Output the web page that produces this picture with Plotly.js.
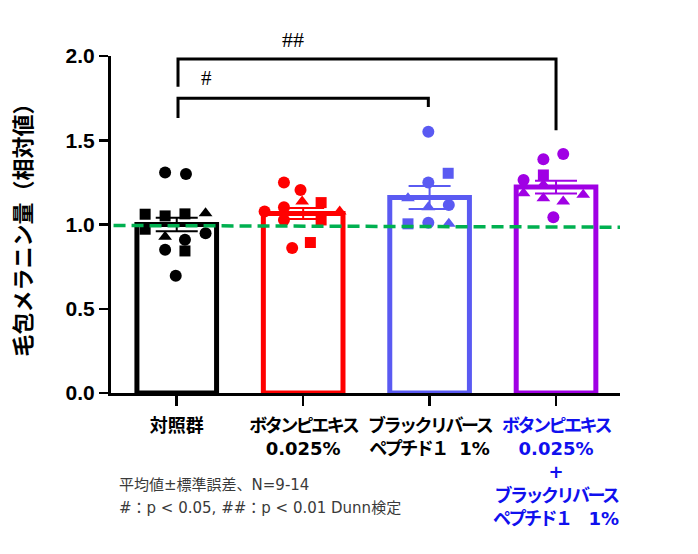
<!DOCTYPE html>
<html>
<head>
<meta charset="utf-8">
<script src="https://cdn.plot.ly/plotly-3.0.1.min.js"></script>
<style>html,body{margin:0;padding:0;background:#fff;}</style>
</head>
<body>
<div id="chart" style="width:698px;height:554px;"></div>
<script>
// ---- data ----
const groupNames = ['対照群', 'ボタンピエキス 0.025%', 'ブラックリバース ペプチド１ 1%', 'ボタンピエキス 0.025% + ブラックリバース ペプチド１ 1%'];
const groupMeans = [1.00, 1.065, 1.16, 1.222];
const groupSems = [0.04, 0.033, 0.068, 0.038];

const ctrlValues    = [1.308, 1.300, 1.061, 1.051, 1.063, 1.067, 0.972, 0.928, 0.850, 0.909, 0.843, 0.948, 0.696];
const botanValues   = [1.249, 1.205, 1.136, 1.130, 1.103, 1.077, 1.077, 1.027, 1.027, 0.893, 0.860];
const peptideValues = [1.551, 1.304, 1.249, 1.156, 1.103, 1.116, 1.004, 1.011, 1.004];
const comboValues   = [1.419, 1.387, 1.294, 1.236, 1.264, 1.186, 1.156, 1.136, 1.176, 1.043];

const ctrlKinds    = ['c','c','s','s','s','t','s','t','c','c','s','c','c'];
const botanKinds   = ['c','c','t','s','c','c','t','c','s','s','c'];
const peptideKinds = ['c','s','c','t','t','c','s','c','t'];
const comboKinds   = ['c','c','s','t','c','t','t','t','t','c'];

const yTickVals = [0, 0.5, 1.0, 1.5, 2.0];
const noteLines = ['平均値±標準誤差、N=9-14', '#：p < 0.05, ##：p < 0.01 Dunn検定'];
const sigLabels = ['#', '##'];
const refLevel = [0.994, 0.984];

// ---- layout helpers (positions / styles) ----
const ctrlOffsets    = [-0.092, 0.073, -0.25, -0.092, 0.065, 0.228, -0.25, -0.092, -0.092, 0.065, 0.065, 0.228, -0.008];
const botanOffsets   = [-0.152, -0.021, -0.008, 0.142, -0.152, -0.305, 0.289, -0.152, 0.142, 0.057, -0.087];
const peptideOffsets = [-0.01, 0.147, -0.01, -0.171, -0.01, 0.152, -0.171, -0.01, 0.152];
const comboOffsets   = [0.057, -0.1, -0.1, -0.1, -0.257, -0.257, -0.1, 0.057, 0.215, -0.021];

const colors = ['#000000', '#ff0000', '#5a5af2', '#a000e4'];
const symbolMap = {c: 'circle', s: 'square', t: 'triangle-up'};
const sizeMap = {c: 12, s: 11, t: 12};

const K = 'letter-spacing:-2.5px';
const tickText = [
  '対照群',
  `<span style="${K}">ボタンピエキス</span><br>0.025%`,
  `<span style="${K}">ブラックリバース</span><br><span style="${K}">ペプチド１</span>  1%`,
  `<span style="color:#1010ee"><span style="${K}">ボタンピエキス</span><br>0.025%<br>+<br><span style="${K}">ブラックリバース</span><br><span style="${K}">ペプチド１</span>　1%</span>`
];

const idx = groupNames.map((_, i) => i);

const traces = [];
traces.push({
  type: 'bar', x: idx, y: groupMeans, width: 0.63,
  marker: {color: 'rgba(255,255,255,1)', line: {color: colors, width: 5}},
  hoverinfo: 'skip', showlegend: false
});
idx.forEach(i => {
  traces.push({
    type: 'scatter', mode: 'markers', x: [i], y: [groupMeans[i]],
    marker: {size: 1, opacity: 0},
    error_y: {type: 'data', array: [groupSems[i]], visible: true, color: colors[i], thickness: 2, width: 21},
    hoverinfo: 'skip', showlegend: false
  });
});
const groups = [
  [ctrlValues, ctrlKinds, ctrlOffsets],
  [botanValues, botanKinds, botanOffsets],
  [peptideValues, peptideKinds, peptideOffsets],
  [comboValues, comboKinds, comboOffsets]
];
groups.forEach((g, i) => {
  const [vals, kinds, offs] = g;
  traces.push({
    type: 'scatter', mode: 'markers',
    x: vals.map((_, j) => i + offs[j]), y: vals,
    marker: {color: colors[i], opacity: 1, symbol: kinds.map(k => symbolMap[k]), size: kinds.map(k => sizeMap[k]), line: {width: 0}},
    cliponaxis: false, hoverinfo: 'skip', showlegend: false
  });
});

const noteFont = {family: 'DejaVu Sans, Noto Sans CJK JP, sans-serif', size: 15, color: '#3a3a3a'};

const layout = {
  width: 698, height: 554,
  margin: {l: 111, r: 78, t: 56, b: 161},
  paper_bgcolor: '#fff', plot_bgcolor: '#fff',
  showlegend: false,
  xaxis: {
    range: [-0.52, 3.506], tickvals: idx, ticktext: tickText, tickangle: 0,
    showline: true, linewidth: 3, linecolor: '#000', ticks: 'outside', ticklen: 10, tickwidth: 2.5, tickcolor: '#000',
    ticklabelstandoff: 4,
    showgrid: false, zeroline: false, fixedrange: true,
    tickfont: {family: 'DejaVu Sans, Noto Sans CJK JP, sans-serif', size: 18, color: '#000', weight: 'bold'}
  },
  yaxis: {
    range: [0, 2.0], tickvals: yTickVals, tickformat: '.1f',
    showline: true, linewidth: 3, linecolor: '#000', ticks: 'outside', ticklen: 9, tickwidth: 2.5, tickcolor: '#000',
    showgrid: false, zeroline: false, fixedrange: true,
    tickfont: {family: 'Liberation Sans, Arial, sans-serif', size: 21, color: '#000', weight: 'bold'},
    title: {text: '毛包メラニン量（相対値）', standoff: 28,
      font: {family: 'Noto Sans CJK JP, sans-serif', size: 22, color: '#000', weight: 'bold'}}
  },
  shapes: [
    {type: 'line', xref: 'paper', yref: 'y', x0: 0.005, x1: 1, y0: refLevel[0], y1: refLevel[1],
      line: {color: '#00b050', width: 3.5, dash: '12px,6px'}, layer: 'above'},
    {type: 'path', xref: 'x', yref: 'y', path: 'M 0.01 1.817 L 0.01 1.982 L 3.0 1.982 L 3.0 1.56',
      line: {color: '#000', width: 3}},
    {type: 'path', xref: 'x', yref: 'y', path: 'M 0.01 1.632 L 0.01 1.749 L 1.99 1.749 L 1.99 1.697',
      line: {color: '#000', width: 3}}
  ],
  annotations: [
    {xref: 'x', yref: 'y', x: 0.232, y: 1.869, text: sigLabels[0], showarrow: false,
      font: {family: 'Liberation Serif, serif', size: 21, color: '#000'}},
    {xref: 'x', yref: 'paper', x: 0.92, y: 1.05, yanchor: 'middle', text: sigLabels[1], showarrow: false,
      font: {family: 'Liberation Serif, serif', size: 22, color: '#000'}},
    {xref: 'paper', yref: 'paper', x: 0.012, y: -0.274, xanchor: 'left', yanchor: 'middle',
      text: noteLines[0], showarrow: false, font: noteFont},
    {xref: 'paper', yref: 'paper', x: 0.012, y: -0.34, xanchor: 'left', yanchor: 'middle',
      text: noteLines[1], showarrow: false, font: noteFont}
  ]
};

Plotly.newPlot('chart', traces, layout, {displayModeBar: false, staticPlot: true});
</script>
</body>
</html>
